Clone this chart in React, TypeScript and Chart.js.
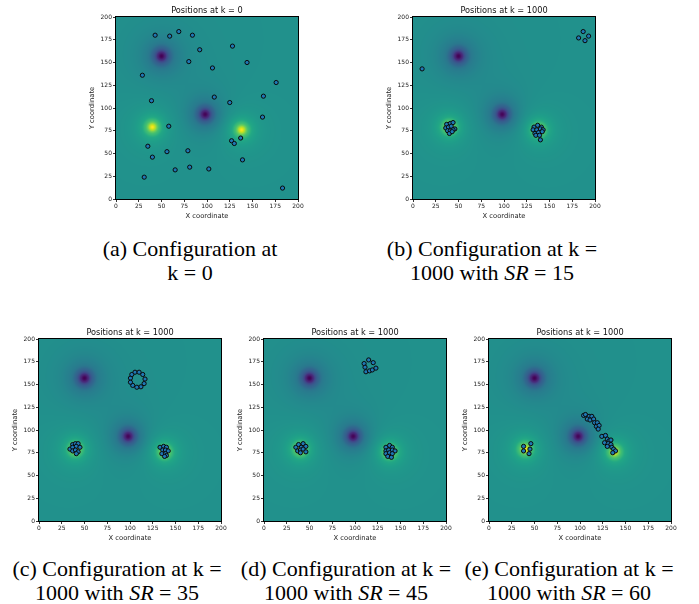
import React, { useEffect, useRef } from "react";
import { Chart, registerables } from "chart.js";

Chart.register(...registerables);

// ---------- shared axis ticks ----------
const axisTicks = [0, 25, 50, 75, 100, 125, 150, 175, 200];

// ---------- background field sources (centres in data units) ----------
const sourceX = [50, 98, 40, 138];
const sourceY = [157, 93, 79, 76];
const sourceAmp = [-0.5, -0.5, 0.5, 0.5];
const sourceWidth = [7, 7, 6, 6];
const fieldBase = 0.5;

// ---------- panel (a): k = 0 ----------
const aX = [43, 59, 69, 84, 92, 128, 80, 106, 144, 29, 176, 39, 108, 125, 162, 161, 58, 35, 40, 56, 79, 81, 65, 31, 102, 127, 130, 137, 139, 183];
const aY = [180, 179, 184, 180, 164, 168, 151, 144, 150, 136, 128, 108, 112, 106, 113, 90, 80, 58, 46, 52, 53, 35, 32, 24, 33, 64, 61, 67, 43, 12];

// ---------- panel (b): k = 1000, SR = 15 ----------
const bX = [10, 182, 187, 193, 189, 37, 41, 44, 36, 39, 42, 46, 38, 41, 44, 40, 43, 133, 137, 141, 132, 136, 140, 143, 134, 138, 142, 135, 139, 140];
const bY = [143, 177, 184, 179, 174, 82, 83, 84, 78, 79, 80, 77, 75, 75, 76, 72, 74, 79, 81, 79, 76, 76, 77, 76, 72, 73, 74, 70, 70, 65];

// ---------- panel (c): k = 1000, SR = 35 ----------
const cX = [37, 40, 43, 34, 37, 41, 45, 37, 40, 43, 41, 133, 137, 140, 136, 139, 142, 135, 139, 140, 138, 100.5, 102, 105.5, 110, 114, 116.5, 115.5, 112, 107.5, 103, 100.5];
const cY = [84, 85, 85, 79, 81, 82, 81, 77, 78, 76, 74, 81, 82, 81, 78, 78, 77, 74, 74, 72, 71, 157, 161, 163.5, 163.5, 161, 156, 151, 147.5, 147, 149, 152.5];

// ---------- panel (d): k = 1000, SR = 45 ----------
const dX = [110, 111, 112, 116, 119, 123, 120, 115, 35, 38, 41, 43, 46, 37, 40, 43, 46, 40, 134, 138, 141, 134, 137, 141, 144, 134, 138, 141, 136, 140];
const dY = [173, 169, 164, 165, 166, 168, 174, 177, 81, 84, 81, 85, 82, 77, 78, 79, 76, 75, 81, 83, 81, 77, 78, 78, 77, 74, 75, 74, 71, 70];

// ---------- panel (e): k = 1000, SR = 60 ----------
const eX = [38, 38, 45, 46, 44, 104, 106, 110, 113, 108, 111, 115, 116, 119, 118, 121, 120, 124, 128, 130, 132, 134, 127, 131, 134, 130, 135, 137, 139, 136];
const eY = [82, 77, 79, 85, 74, 116, 117, 115, 115, 112, 111, 112, 108, 108, 104, 105, 101, 93, 94, 90, 88, 89, 86, 85, 84, 82, 81, 79, 77, 75];

// ---------- titles and captions ----------
const panelTitles = ["Positions at k = 0", "Positions at k = 1000", "Positions at k = 1000", "Positions at k = 1000", "Positions at k = 1000"];
const captionFirst = ["(a) Configuration at", "(b) Configuration at k =", "(c) Configuration at k =", "(d) Configuration at k =", "(e) Configuration at k ="];
const captionSecondPrefix = ["k = 0", "1000 with ", "1000 with ", "1000 with ", "1000 with "];
const captionSR = [null, "15", "35", "45", "60"];

// layout (page pixels): chart-area top-left of each panel, caption centres
const areaLeft = [116, 413, 39, 264, 489];
const areaTop = [17, 17, 339, 339, 339];
const captionCx = [190, 492, 117, 346, 569];
const captionTop = [237, 237, 557, 557, 557];

const AREA = 182;
const YAXIS_W = 38;
const TITLE_H = 16;
const XAXIS_H = 26;
const PAD_R = 12;

const viridisStops: number[][] = [
  [68, 1, 84], [71, 19, 101], [72, 36, 117], [71, 47, 125], [65, 68, 135], [59, 82, 139],
  [53, 95, 141], [49, 104, 142], [42, 120, 142], [38, 130, 142], [33, 145, 140], [31, 158, 137],
  [34, 168, 132], [53, 183, 121], [68, 191, 112], [94, 201, 98], [122, 209, 81], [160, 218, 57],
  [189, 223, 38], [223, 227, 24], [253, 231, 37],
];

function viridis(t: number): number[] {
  const v = Math.max(0, Math.min(1, t)) * (viridisStops.length - 1);
  const i = Math.min(viridisStops.length - 2, Math.floor(v));
  const f = v - i;
  const a = viridisStops[i];
  const b = viridisStops[i + 1];
  return [a[0] + (b[0] - a[0]) * f, a[1] + (b[1] - a[1]) * f, a[2] + (b[2] - a[2]) * f];
}

function fieldAt(x: number, y: number): number {
  let v = fieldBase;
  for (let k = 0; k < sourceX.length; k++) {
    const dx = x - sourceX[k];
    const dy = y - sourceY[k];
    const r2 = (dx * dx + dy * dy) / (sourceWidth[k] * sourceWidth[k]);
    v += sourceAmp[k] / (1 + r2);
  }
  return v;
}

const heatmapPlugin = {
  id: "heatmapField",
  beforeDatasetsDraw(chart: any) {
    const { ctx, chartArea, scales } = chart;
    const x0 = Math.round(chartArea.left);
    const y0 = Math.round(chartArea.top);
    const w = Math.round(chartArea.right) - x0;
    const h = Math.round(chartArea.bottom) - y0;
    const off = document.createElement("canvas");
    off.width = w;
    off.height = h;
    const octx = off.getContext("2d")!;
    const img = octx.createImageData(w, h);
    for (let j = 0; j < h; j++) {
      const yv = scales.y.getValueForPixel(y0 + j + 0.5);
      for (let i = 0; i < w; i++) {
        const xv = scales.x.getValueForPixel(x0 + i + 0.5);
        const c = viridis(fieldAt(xv, yv));
        const p = (j * w + i) * 4;
        img.data[p] = c[0];
        img.data[p + 1] = c[1];
        img.data[p + 2] = c[2];
        img.data[p + 3] = 255;
      }
    }
    octx.putImageData(img, 0, 0);
    ctx.save();
    ctx.drawImage(off, x0, y0);
    ctx.restore();
  },
};

const spinePlugin = {
  id: "spines",
  afterDatasetsDraw(chart: any) {
    const { ctx, chartArea } = chart;
    const x0 = Math.round(chartArea.left);
    const y0 = Math.round(chartArea.top);
    const x1 = Math.round(chartArea.right);
    const y1 = Math.round(chartArea.bottom);
    ctx.save();
    ctx.strokeStyle = "#000";
    ctx.lineWidth = 1;
    ctx.strokeRect(x0 - 0.5, y0 - 0.5, x1 - x0 + 1, y1 - y0 + 1);
    ctx.restore();
  },
};

const tickFont = { family: "'DejaVu Sans', sans-serif", size: 6 };
const labelFont = { family: "'DejaVu Sans', sans-serif", size: 6.8 };

function axisOptions(isX: boolean) {
  return {
    type: "linear" as const,
    min: 0,
    max: 200,
    afterBuildTicks: (s: any) => {
      s.ticks = axisTicks.map((v) => ({ value: v }));
    },
    afterFit: (s: any) => {
      if (isX) s.height = XAXIS_H;
      else s.width = YAXIS_W;
    },
    ticks: { font: tickFont, color: "#222", padding: 1, maxRotation: 0, autoSkip: false },
    grid: { display: true, drawOnChartArea: false, drawTicks: true, tickLength: 3, tickColor: "#000", lineWidth: 0.8 },
    border: { display: false },
    title: {
      display: true,
      text: isX ? "X coordinate" : "Y coordinate",
      font: labelFont,
      color: "#222",
      padding: isX ? { top: 0, bottom: 4.9 } : { top: 10, bottom: 0 },
    },
  };
}

function Panel(props: { index: number; xs: number[]; ys: number[] }) {
  const ref = useRef<HTMLCanvasElement | null>(null);
  const { index, xs, ys } = props;
  const width = YAXIS_W + AREA + PAD_R;
  const height = TITLE_H + AREA + XAXIS_H;
  useEffect(() => {
    if (!ref.current) return;
    const chart = new Chart(ref.current, {
      type: "scatter",
      data: {
        datasets: [
          {
            data: xs.map((x, i) => ({ x, y: ys[i] })),
            pointRadius: 2.1,
            pointHoverRadius: 2.1,
            borderWidth: 1,
            borderColor: "#0a0a0a",
            backgroundColor: "#1f77b4",
          },
        ],
      },
      options: {
        animation: false,
        responsive: false,
        devicePixelRatio: 1,
        layout: { padding: { left: 0, right: PAD_R, top: 0, bottom: 0 } },
        plugins: {
          legend: { display: false },
          tooltip: { enabled: false },
          title: {
            display: true,
            fullSize: false,
            text: panelTitles[index],
            color: "#111",
            font: { family: "'DejaVu Sans', sans-serif", size: 8.2, weight: "normal", lineHeight: "10px" },
            padding: { top: 5, bottom: 1 },
          },
        },
        scales: {
          x: axisOptions(true),
          y: axisOptions(false),
        },
      } as any,
      plugins: [heatmapPlugin, spinePlugin],
    });
    return () => chart.destroy();
  }, []);
  return (
    <canvas
      ref={ref}
      width={width}
      height={height}
      style={{
        position: "absolute",
        left: areaLeft[index] - YAXIS_W,
        top: areaTop[index] - TITLE_H,
        width,
        height,
      }}
    />
  );
}

function Caption(props: { index: number }) {
  const { index } = props;
  const sr = captionSR[index];
  return (
    <div
      style={{
        position: "absolute",
        left: captionCx[index] - 120,
        top: captionTop[index],
        width: 240,
        textAlign: "center",
        fontFamily: "'Liberation Serif', 'Times New Roman', serif",
        fontSize: 22,
        lineHeight: "24px",
        color: "#000",
        whiteSpace: "nowrap",
      }}
    >
      <div>{captionFirst[index]}</div>
      <div>
        {captionSecondPrefix[index]}
        {sr !== null ? (
          <>
            <i>SR</i> = {sr}
          </>
        ) : null}
      </div>
    </div>
  );
}

export default function App() {
  const panels = [
    { xs: aX, ys: aY },
    { xs: bX, ys: bY },
    { xs: cX, ys: cY },
    { xs: dX, ys: dY },
    { xs: eX, ys: eY },
  ];
  return (
    <div style={{ position: "absolute", left: 0, top: 0, width: 699, height: 604, background: "#fff" }}>
      {panels.map((p, i) => (
        <Panel key={"p" + i} index={i} xs={p.xs} ys={p.ys} />
      ))}
      {panels.map((_, i) => (
        <Caption key={"c" + i} index={i} />
      ))}
    </div>
  );
}
